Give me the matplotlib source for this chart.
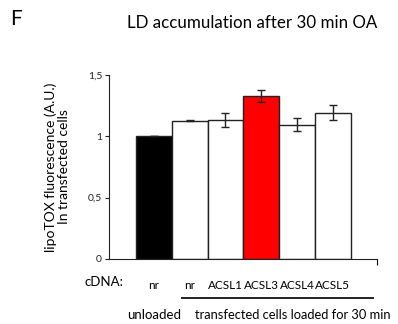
import matplotlib.pyplot as plt
import matplotlib.transforms as mtransforms

plt.rcParams['font.family'] = ['Lato', 'DejaVu Sans']

cdna = ['nr', 'nr', 'ACSL1', 'ACSL3', 'ACSL4', 'ACSL5']
values = [1.0, 1.125, 1.133, 1.328, 1.095, 1.193]
errors = [0.0, 0.005, 0.056, 0.049, 0.056, 0.061]
colors = ['black', 'white', 'white', 'red', 'white', 'white']
yticks = [0, 0.5, 1, 1.5]
ytick_labels = ['0', '0,5', '1', '1,5']

fig = plt.figure(figsize=(3.98, 3.24), dpi=100)
ax = fig.add_axes([0.274, 0.201, 0.673, 0.568])

x = range(len(values))
ax.bar(x, values, width=1.0, color=colors, edgecolor='#222222', linewidth=1.0)
ax.errorbar(x, values, yerr=errors, fmt='none', ecolor='#222222',
            elinewidth=1.0, capsize=3, capthick=1.0)

ax.set_xlim(-1.25, 6.23)
ax.set_ylim(0, 1.5)
ax.spines['top'].set_visible(False)
ax.spines['right'].set_visible(False)
ax.spines['left'].set_color('#222222')
ax.spines['bottom'].set_color('#222222')

ax.set_yticks(yticks)
ax.set_yticklabels(ytick_labels, fontsize=7.5)
ax.tick_params(axis='y', direction='out', length=3, width=0.8, pad=2, colors='#222222')

ax.set_xticks(list(x))
ax.set_xticklabels(cdna, fontsize=8.5)
ax.tick_params(axis='x', length=0, pad=15)
ax.set_xticks([6.23], minor=True)
ax.tick_params(axis='x', which='minor', direction='out', length=4, width=0.8)

ax.set_ylabel('lipoTOX fluorescence (A.U.)\nIn transfected cells', fontsize=10,
              labelpad=13, linespacing=1.05)

fig.text(10 / 398, 1 - 19 / 324, 'F', fontsize=15, va='center', ha='left')
fig.text(252 / 398, 1 - 23 / 324, 'LD accumulation after 30 min OA', fontsize=12.2,
         va='center', ha='center')
fig.text(104 / 398, 1 - 282 / 324, 'cDNA:', fontsize=9.5, va='center', ha='center')

trans = mtransforms.blended_transform_factory(ax.transData, ax.transAxes)
ax.plot([0.78, 6.12], [-0.213, -0.213], color='#222222', linewidth=1.4,
        transform=trans, clip_on=False)
ax.text(0, -0.305, 'unloaded', fontsize=9.5, ha='center', va='center', transform=trans)
ax.text(3.88, -0.305, 'transfected cells loaded for 30 min', fontsize=9.3,
        ha='center', va='center', transform=trans)

fig.savefig('out.png', dpi=100)
